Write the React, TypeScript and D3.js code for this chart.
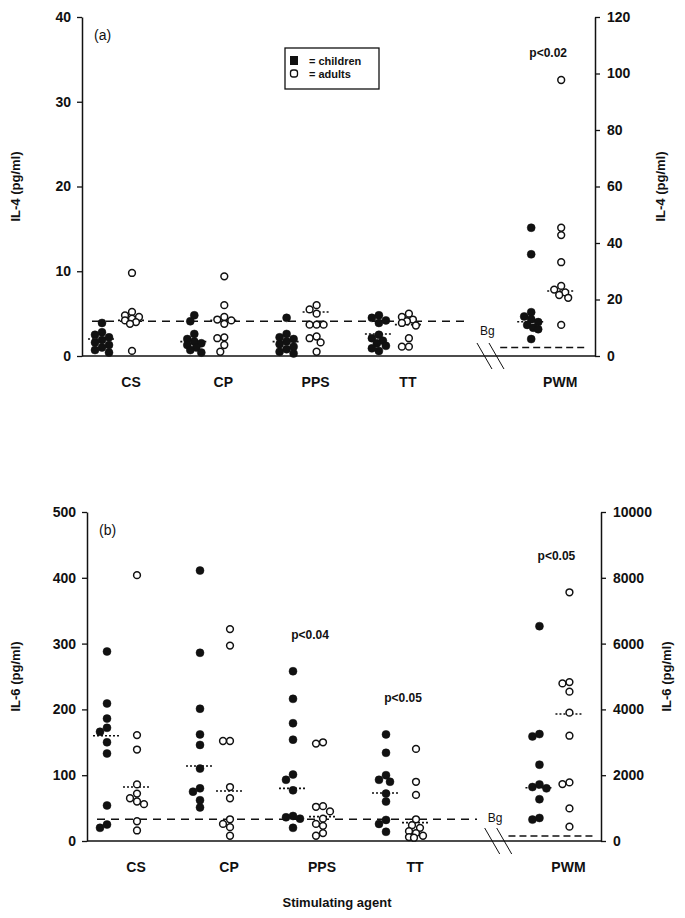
import { useRef, useEffect } from 'react';
import * as d3 from 'd3';

const categories = ['CS', 'CP', 'PPS', 'TT', 'PWM'];

// panel (a): IL-4 pg/ml, PWM is read on the right axis
const il4Children = [
  [3.9, 2.8, 2.5, 2.2, 1.9, 1.6, 1.3, 1.0, 0.7, 0.4],
  [4.8, 4.1, 2.6, 2.0, 1.7, 1.5, 1.3, 1.0, 0.7, 0.4],
  [4.5, 2.6, 2.2, 2.0, 1.7, 1.4, 1.1, 0.8, 0.5, 0.3],
  [4.8, 4.5, 4.2, 3.9, 2.5, 2.1, 1.8, 1.5, 1.2, 0.9, 0.6],
  [45.4, 36, 15.5, 14, 13, 12, 11, 10, 9.5, 6],
];
const il4Adults = [
  [9.8, 5.2, 4.8, 4.6, 4.4, 4.2, 4.0, 3.8, 0.6],
  [9.4, 6.0, 4.6, 4.3, 4.2, 3.8, 2.2, 2.1, 1.3, 0.5],
  [6.0, 5.5, 5.0, 3.7, 3.7, 3.7, 2.3, 2.1, 1.6, 0.5],
  [5.0, 4.6, 4.3, 4.1, 3.9, 3.6, 2.1, 1.1, 1.1],
  [97.7, 45.4, 42.8, 33.2, 24.8, 23.5, 22.5, 21.6, 20.6, 11],
];
const il4ChildMedian = [2.0, 1.7, 1.7, 2.6, 12.1];
const il4AdultMedian = [4.2, 4.2, 5.2, 3.7, 23];
const il4Bg = [4.1, 3];
const il4PValues = ['', '', '', '', 'p<0.02'];

// panel (b): IL-6 pg/ml, PWM is read on the right axis
const il6Children = [
  [288, 209, 186, 172, 166, 150, 133, 54, 25, 20],
  [411, 286, 201, 162, 146, 110, 80, 75, 62, 51],
  [258, 216, 179, 154, 101, 93, 77, 38, 36, 34, 20],
  [162, 134, 100, 93, 90, 72, 60, 32, 26, 14],
  [6530, 3250, 3180, 2320, 1720, 1640, 1600, 1270, 700, 650],
];
const il6Adults = [
  [404, 161, 139, 86, 72, 65, 60, 56, 30, 16],
  [322, 297, 152, 152, 82, 65, 33, 26, 21, 8],
  [150, 148, 53, 52, 45, 34, 26, 23, 12, 8],
  [140, 90, 70, 33, 24, 20, 15, 12, 8, 6, 5],
  [7560, 4830, 4790, 4540, 3900, 3200, 1780, 1730, 990, 435],
];
const il6ChildMedian = [160, 114, 80, 73, 1620];
const il6AdultMedian = [82, 76, 37, 28, 3860];
const il6Bg = [33, 150];
const il6PValues = ['', '', 'p<0.04', 'p<0.05', 'p<0.05'];

const leftTicksA = [0, 10, 20, 30, 40];
const rightTicksA = [0, 20, 40, 60, 80, 100, 120];
const leftTicksB = [0, 100, 200, 300, 400, 500];
const rightTicksB = [0, 2000, 4000, 6000, 8000, 10000];

const FONT = "'Liberation Sans', Arial, sans-serif";

export default function App() {
  const svgRef = useRef(null);

  useEffect(() => {
    document.body.style.margin = '0';
    const svg = d3.select(svgRef.current);
    svg.selectAll('*').remove();

    drawPanel(svg, {
      top: 17, bottom: 356, left: 82, right: 595, first: 35, step: 92.3,
      label: '(a)', title: 'IL-4 (pg/ml)',
      leftTicks: leftTicksA, rightTicks: rightTicksA,
      children: il4Children, adults: il4Adults,
      childMed: il4ChildMedian, adultMed: il4AdultMedian,
      bg: il4Bg, bgDy: 14, pvals: il4PValues, pY: 57,
    });
    drawPanel(svg, {
      top: 512, bottom: 841, left: 87, right: 601, first: 35, step: 93,
      label: '(b)', title: 'IL-6 (pg/ml)',
      leftTicks: leftTicksB, rightTicks: rightTicksB,
      children: il6Children, adults: il6Adults,
      childMed: il6ChildMedian, adultMed: il6AdultMedian,
      bg: il6Bg, bgDy: 3, pvals: il6PValues, pY: null,
    });

    // legend (panel a)
    const lg = svg.append('g');
    lg.append('rect').attr('x', 285).attr('y', 48).attr('width', 94).attr('height', 41)
      .attr('fill', 'white').attr('stroke', '#111').attr('stroke-width', 1.3);
    lg.append('rect').attr('x', 290).attr('y', 56).attr('width', 8).attr('height', 9).attr('fill', '#111');
    lg.append('rect').attr('x', 290.5).attr('y', 70).attr('width', 7).attr('height', 7).attr('rx', 2.5)
      .attr('fill', 'white').attr('stroke', '#111').attr('stroke-width', 1.3);
    lg.append('text').attr('x', 309).attr('y', 65).text('= children');
    lg.append('text').attr('x', 309).attr('y', 78).text('= adults');
    lg.selectAll('text').attr('font-family', FONT).attr('font-size', 11).attr('font-weight', 'bold').attr('fill', '#111');

    svg.append('text').attr('x', 337).attr('y', 907).attr('text-anchor', 'middle')
      .attr('font-family', FONT).attr('font-size', 13).attr('font-weight', 'bold').attr('fill', '#111')
      .text('Stimulating agent');
  }, []);

  // small deterministic sideways shifts so overlapping points stay visible
  function swarm(values, y, r) {
    const placed = [];
    const cands = [0, -4, 4, -7, 7, -2, 2];
    return values.map((v) => {
      const py = y(v);
      let best = 0, bestD = -1;
      for (const c of cands) {
        let dmin = Infinity;
        placed.forEach((p) => { dmin = Math.min(dmin, Math.hypot(p[0] - c, p[1] - py)); });
        if (dmin >= 2 * r * 0.85) { best = c; bestD = dmin; break; }
        if (dmin > bestD) { bestD = dmin; best = c; }
      }
      placed.push([best, py]);
      return best;
    });
  }

  function drawPanel(svg, o) {
    const g = svg.append('g');
    const yL = d3.scaleLinear().domain([0, d3.max(o.leftTicks)]).range([o.bottom, o.top]);
    const yR = d3.scaleLinear().domain([0, d3.max(o.rightTicks)]).range([o.bottom, o.top]);
    const x = d3.scaleLinear().domain([0, 3]).range([o.left + o.first, o.left + o.first + 3 * o.step]);
    const slot = (i) => (i === 4 ? 4.65 : i);
    const off = 15;
    const r = 4;

    const axL = g.append('g').attr('transform', `translate(${o.left},0)`)
      .call(d3.axisLeft(yL).tickValues(o.leftTicks).tickSize(5).tickSizeOuter(0).tickPadding(6).tickFormat(d3.format('d')));
    const axR = g.append('g').attr('transform', `translate(${o.right},0)`)
      .call(d3.axisRight(yR).tickValues(o.rightTicks).tickSize(5).tickSizeOuter(0).tickPadding(7).tickFormat(d3.format('d')));
    [axL, axR].forEach((ax) => {
      ax.select('.domain').attr('stroke', '#111').attr('stroke-width', 1.5);
      ax.selectAll('.tick line').attr('stroke', '#111').attr('stroke-width', 1.3);
      ax.selectAll('.tick text').attr('font-family', FONT).attr('font-size', 14)
        .attr('font-weight', 'bold').attr('fill', '#111');
    });

    // baseline with axis break
    g.append('line').attr('x1', o.left).attr('x2', o.right).attr('y1', o.bottom).attr('y2', o.bottom)
      .attr('stroke', '#111').attr('stroke-width', 1.6);
    [0, 12].forEach((d) => {
      g.append('line').attr('x1', x(3.9) + d).attr('x2', x(3.9) + d + 15)
        .attr('y1', o.bottom - 13).attr('y2', o.bottom + 13).attr('stroke', '#111').attr('stroke-width', 1);
    });

    // background lines
    g.append('line').attr('x1', o.left + 10).attr('x2', x(3) + 76)
      .attr('y1', yL(o.bg[0])).attr('y2', yL(o.bg[0]))
      .attr('stroke', '#111').attr('stroke-width', 1.6).attr('stroke-dasharray', '8,6');
    g.append('line').attr('x1', x(4.65) - 46).attr('x2', x(4.65) + 38)
      .attr('y1', yR(o.bg[1])).attr('y2', yR(o.bg[1]))
      .attr('stroke', '#111').attr('stroke-width', 1.6).attr('stroke-dasharray', '7,4');
    g.append('text').attr('x', x(3.9) + 3).attr('y', yL(o.bg[0]) + o.bgDy).text('Bg')
      .attr('font-family', FONT).attr('font-size', 12).attr('fill', '#111');

    categories.forEach((cat, i) => {
      const cx = x(slot(i));
      const y = i === 4 ? yR : yL;
      const groups = [
        { vals: o.children[i], med: o.childMed[i], dx: -off, filled: true },
        { vals: o.adults[i], med: o.adultMed[i], dx: off, filled: false },
      ];
      groups.forEach((gr) => {
        const gx = cx + gr.dx;
        g.append('line').attr('x1', gx - 14).attr('x2', gx + 14)
          .attr('y1', y(gr.med)).attr('y2', y(gr.med))
          .attr('stroke', '#111').attr('stroke-width', 1.6).attr('stroke-dasharray', '2,2');
        const shifts = swarm(gr.vals, y, r);
        g.append('g').selectAll('circle').data(gr.vals).join('circle')
          .attr('cx', (d, k) => gx + shifts[k])
          .attr('cy', (d) => y(d))
          .attr('r', gr.filled ? r : r - 0.6)
          .attr('fill', gr.filled ? '#111' : 'white')
          .attr('stroke', '#111')
          .attr('stroke-width', gr.filled ? 0.5 : 1.5);
      });
      g.append('text').attr('x', cx + 14).attr('y', o.bottom + 31).attr('text-anchor', 'middle')
        .attr('font-family', FONT).attr('font-size', 14).attr('font-weight', 'bold').attr('fill', '#111')
        .text(cat);
      if (o.pvals[i]) {
        const maxV = d3.max(o.children[i].concat(o.adults[i]));
        const py = o.pY !== null ? o.pY : y(maxV) - 32;
        g.append('text').attr('x', cx + 2).attr('y', py).attr('text-anchor', 'middle')
          .attr('font-family', FONT).attr('font-size', 12).attr('font-weight', 'bold').attr('fill', '#111')
          .text(o.pvals[i]);
      }
    });

    g.append('text').attr('x', o.left + 12).attr('y', o.top + 23).text(o.label)
      .attr('font-family', FONT).attr('font-size', 14).attr('fill', '#111');

    const mid = (o.top + o.bottom) / 2;
    g.append('text').attr('transform', `translate(20,${mid}) rotate(-90)`).attr('text-anchor', 'middle')
      .attr('font-family', FONT).attr('font-size', 13).attr('font-weight', 'bold').attr('fill', '#111')
      .text(o.title);
    g.append('text').attr('transform', `translate(${o.right + 70},${mid}) rotate(-90)`).attr('text-anchor', 'middle')
      .attr('font-family', FONT).attr('font-size', 13).attr('font-weight', 'bold').attr('fill', '#111')
      .text(o.title);
  }

  return (
    <div>
      <svg ref={svgRef} width={685} height={918} style={{ display: 'block', background: 'white' }} />
    </div>
  );
}
